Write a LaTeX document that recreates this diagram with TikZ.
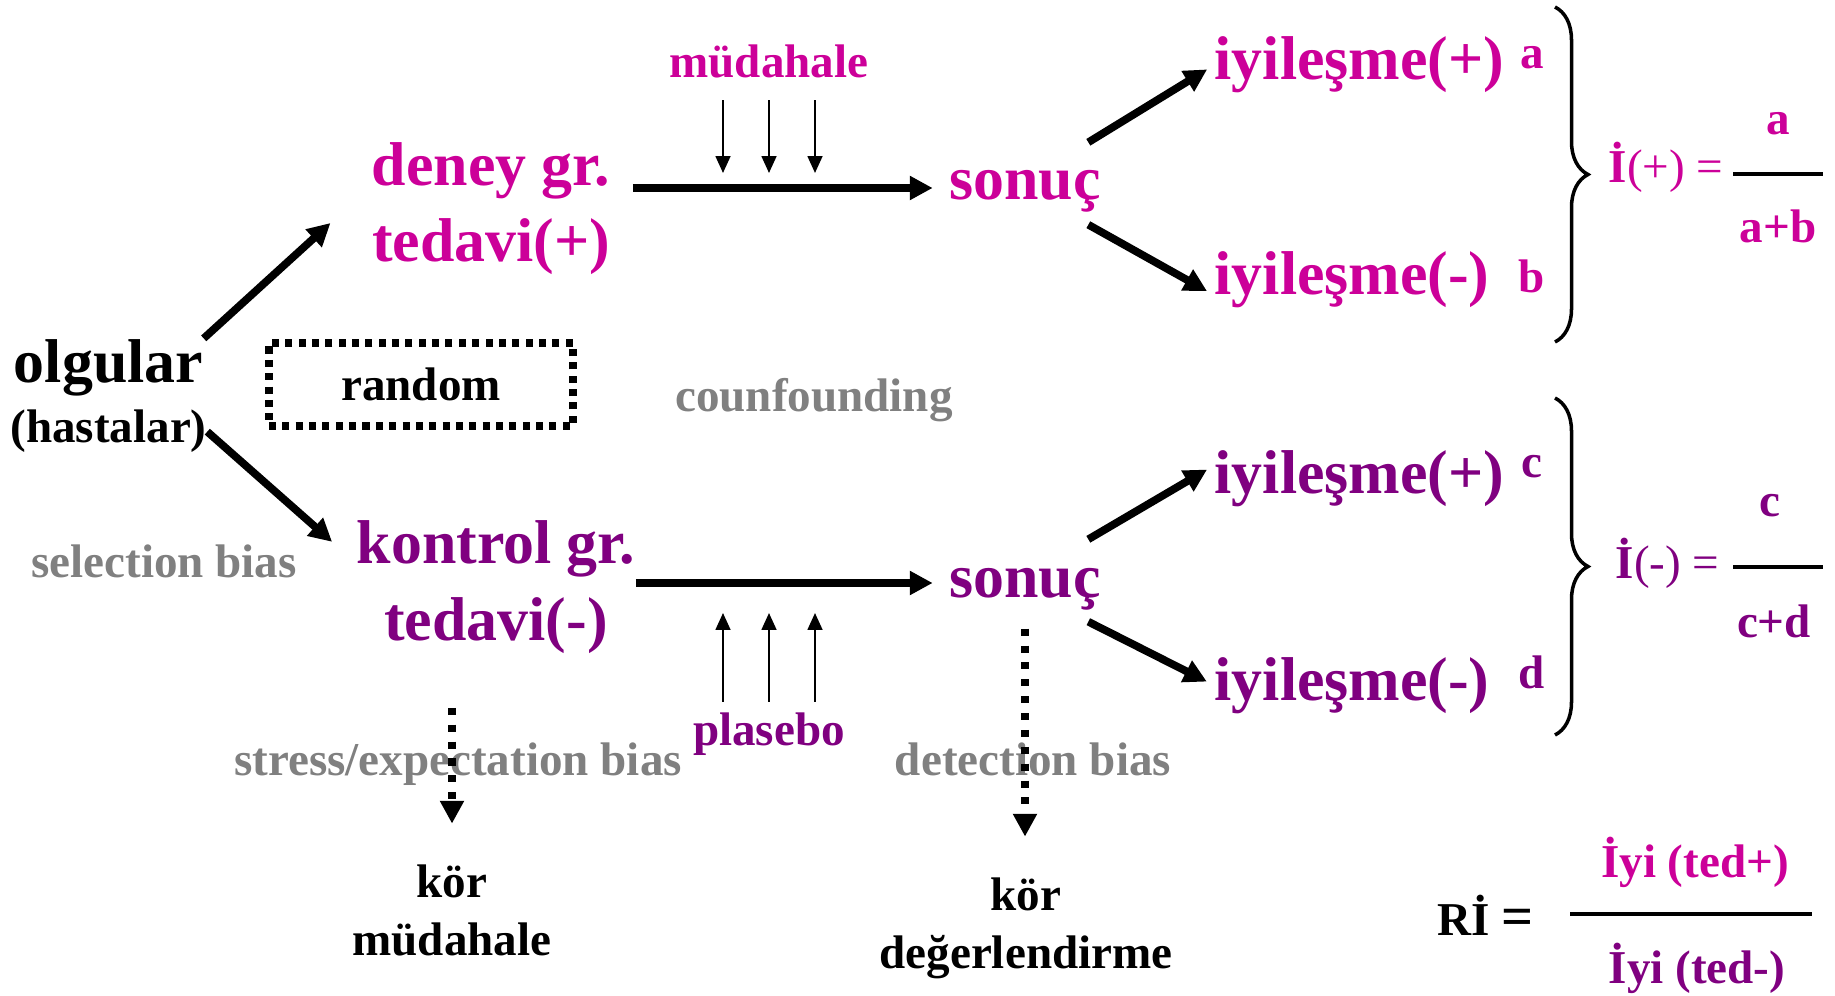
\documentclass[tikz,border=0pt]{standalone}
\usepackage{fontspec}
\setmainfont{Liberation Serif}
\usepackage{xcolor}
\usepackage{tikz}
\usetikzlibrary{arrows.meta}
\usetikzlibrary{positioning}
\usetikzlibrary{decorations.pathreplacing}
\definecolor{deneyc}{HTML}{CC0099}
\definecolor{kontrolc}{HTML}{800080}
\definecolor{biasc}{HTML}{808080}
\tikzstyle{bigtext} = [inner sep=0pt, anchor=base, font=\fontsize{17.6}{21}\selectfont\bfseries]
\tikzstyle{txt} = [inner sep=0pt, anchor=base, font=\fontsize{13.4}{16}\selectfont\bfseries]
\tikzstyle{formula} = [inner sep=0pt, anchor=base west, font=\fontsize{13.4}{16}\selectfont]
\tikzstyle{sonucnode} = [bigtext, inner xsep=-0.13cm, text height=0.57cm, text depth=0.24cm]
\tikzstyle{randombox} = [txt, anchor=center, draw, line width=2pt, dash pattern=on 2pt off 1.8pt, minimum width=3.04cm, minimum height=0.83cm]
\tikzstyle{arrow} = [line width=2.2pt,->,>={Triangle[length=6.5pt,width=6.5pt]}]
\tikzstyle{thinarrow} = [line width=0.6pt,->,>={Triangle[length=4.8pt,width=4.2pt]}]
\tikzstyle{dotarrow} = [line width=2pt,dash pattern=on 2pt off 2.8pt,->,>={Triangle[length=6.5pt,width=6.5pt]}]
\tikzstyle{bracestyle} = [decorate, decoration={brace, amplitude=0.33cm}, line width=1pt]
\tikzstyle{fracline} = [line width=0.9pt]

\begin{document}
\begin{tikzpicture}
    \useasboundingbox (0,0) rectangle (18.35,9.95);
    % hastalar
    \node(olgular)[bigtext] at (1.085,6.13) {olgular};
    \node(hastalar)[txt] at ([yshift=-0.61cm]olgular.base) {(hastalar)};
    \node(random)[randombox] at (4.21,6.105) {random};
    \node(counf)[txt, biasc] at (8.14,5.84) {counfounding};
    \node(selbias)[txt, biasc] at (1.64,4.18) {selection bias};

    % deney grubu
    \node(deney)[bigtext, deneyc] at (4.91,8.09) {deney gr.};
    \node(tedaviplus)[bigtext, deneyc] at ([yshift=-0.76cm]deney.base) {tedavi(+)};
    \node(mudahale)[txt, deneyc] at (7.69,9.17) {müdahale};
    \node(sonuc1)[sonucnode, deneyc] at (10.25,7.95) {sonuç};
    \coordinate (giris1) at ([yshift=0.12cm]sonuc1.base west);
    \node(iyi1)[bigtext, deneyc, anchor=base west] at (12.14,9.15) {iyileşme(+)};
    \node(iyi2)[bigtext, deneyc, anchor=base west] at (12.14,7.00) {iyileşme(-)};
    \node(la)[txt, deneyc] at (15.32,9.26) {a};
    \node(lb)[txt, deneyc] at (15.32,7.02) {b};
    \node(iplus)[formula, deneyc] at (16.08,8.12) {\textbf{İ}(+) =};
    \node(fa)[txt, deneyc] at (17.78,8.60) {a};
    \node(fab)[txt, deneyc] at (17.78,7.52) {a+b};
    \draw[fracline] (17.33,8.21) -- (18.23,8.21);
    \draw[bracestyle] (15.55,9.88) -- (15.55,6.53);

    % kontrol grubu
    \node(kontrol)[bigtext, kontrolc] at (4.96,4.32) {kontrol gr.};
    \node(tedaviminus)[bigtext, kontrolc] at ([yshift=-0.77cm]kontrol.base) {tedavi(-)};
    \node(plasebo)[txt, kontrolc] at (7.69,2.50) {plasebo};
    \node(sonuc2)[sonucnode, kontrolc] at (10.25,3.98) {sonuç};
    \coordinate (giris2) at ([yshift=0.14cm]sonuc2.base west);
    \node(iyi3)[bigtext, kontrolc, anchor=base west] at (12.14,5.02) {iyileşme(+)};
    \node(iyi4)[bigtext, kontrolc, anchor=base west] at (12.14,2.95) {iyileşme(-)};
    \node(lc)[txt, kontrolc] at (15.32,5.18) {c};
    \node(ld)[txt, kontrolc] at (15.32,3.07) {d};
    \node(iminus)[formula, kontrolc] at (16.15,4.17) {\textbf{İ}(-) =};
    \node(fc)[txt, kontrolc] at (17.70,4.79) {c};
    \node(fcd)[txt, kontrolc] at (17.74,3.58) {c+d};
    \draw[fracline] (17.33,4.28) -- (18.23,4.28);
    \draw[bracestyle] (15.55,5.97) -- (15.55,2.60);

    % bias ve kor
    \node(stress)[txt, biasc] at (4.58,2.20) {stress/expectation bias};
    \node(detection)[txt, biasc] at (10.33,2.20) {detection bias};
    \node(kor1)[txt] at (4.52,0.98) {kör};
    \node(kormud)[txt] at ([yshift=-0.58cm]kor1.base) {müdahale};
    \node(kor2)[txt] at (10.26,0.85) {kör};
    \node(kordeg)[txt] at ([yshift=-0.58cm]kor2.base) {değerlendirme};

    % risk orani
    \node(ri)[txt, anchor=base west] at (14.37,0.60) {Rİ {\fontsize{16}{16}\selectfont=}};
    \node(iyited1)[txt, deneyc] at (16.95,1.18) {İyi (ted+)};
    \node(iyited2)[txt, kontrolc] at (16.97,0.12) {İyi (ted-)};
    \draw[fracline] (15.70,0.81) -- (18.12,0.81);

    % oklar
    \draw[arrow, shorten >=0.55cm] (olgular.north east) -- (deney.base west);
    \draw[arrow, shorten >=0.32cm] (hastalar.east) -- (kontrol.base west);
    \draw[arrow, shorten <=0.22cm, shorten >=0.29cm] (deney.east |- giris1) -- (giris1);
    \draw[arrow, shorten >=0.29cm] (kontrol.east |- giris2) -- (giris2);
    \draw[arrow, shorten >=0.08cm] (sonuc1.north east) -- (iyi1.west);
    \draw[arrow, shorten >=0.08cm] (sonuc1.south east) -- (iyi2.base west);
    \draw[arrow, shorten >=0.08cm] (sonuc2.north east) -- (iyi3.175);
    \draw[arrow, shorten >=0.08cm] (sonuc2.south east) -- (iyi4.west);
    \foreach \dx in {-0.46,0,0.46} {
        \draw[thinarrow, shorten <=0.21cm, shorten >=0.15cm] ([xshift=\dx cm]mudahale.south) -- ([xshift=\dx cm]mudahale.south |- giris1);
        \draw[thinarrow, shorten <=0.10cm, shorten >=0.30cm] ([xshift=\dx cm]plasebo.north) -- ([xshift=\dx cm]plasebo.north |- giris2);
    }
    \draw[dotarrow, shorten <=0.54cm, shorten >=0.40cm] (kor1.north |- tedaviminus.south) -- (kor1.north);
    \draw[dotarrow, shorten <=0.07cm, shorten >=0.40cm] (sonuc2.south) -- (sonuc2.south |- kor2.north);
\end{tikzpicture}
\end{document}
